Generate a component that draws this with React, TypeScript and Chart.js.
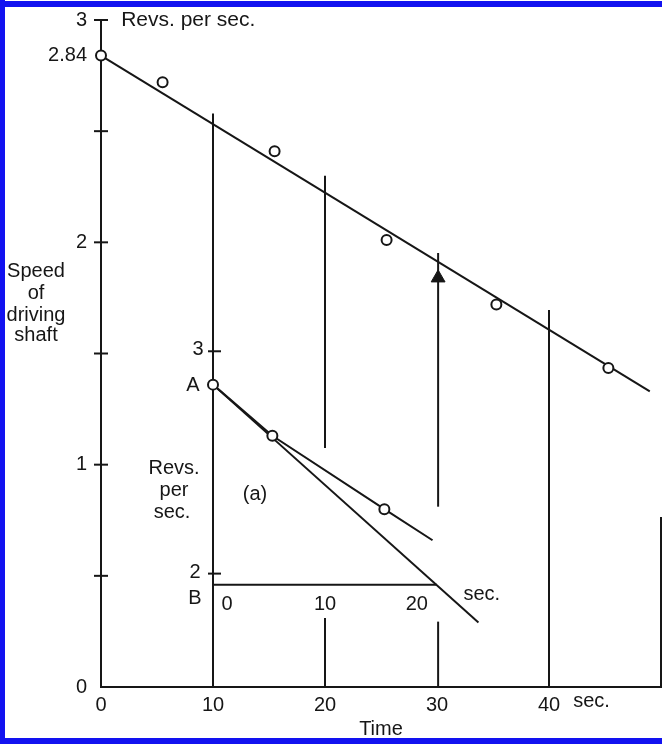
import React, { useEffect, useRef } from 'react';
import { Chart, registerables } from 'chart.js';

Chart.register(...registerables);

// ---------- main graph: speed of driving shaft (revs/sec) vs time (sec) ----------
const mainTimes = [0, 5.5, 15.5, 25.5, 35.3, 45.3];
const mainSpeeds = [2.84, 2.72, 2.41, 2.01, 1.72, 1.435];

const fitTimes = [0, 49];
const fitSpeeds = [2.84, 1.33];

// vertical ordinate segments
const ordinateTimes = [10, 20, 20, 30.1, 30.1, 40, 50];
const ordinateFrom = [0, 1.075, 0, 0.811, 0, 0, 0];
const ordinateTo = [2.58, 2.3, 0.31, 1.952, 0.294, 1.696, 0.765];

const arrowTimes = [30.1];
const arrowSpeeds = [1.84];

const yTickMarks = [0.5, 1, 1.5, 2, 2.5, 3];
const yLabelValues = [0, 1, 2, 2.84, 3];
const yLabelTexts = ['0', '1', '2', '2.84', '3'];
const xTickValues = [0, 10, 20, 30, 40];
const xTickTexts = ['0', '10', '20', '30', '40'];

// ---------- inset (a): in its own units (sec from A, revs/sec) ----------
const insetOriginTime = 10; // main time at inset 0 sec
const insetOriginSpeed = -1.49; // main speed at inset 0 revs/sec
const insetPointTimes = [0, 5.3, 15.3];
const insetPointSpeeds = [2.85, 2.62, 2.29];
const insetCurveTimes = [0, 5.3, 15.3, 19.6];
const insetCurveSpeeds = [2.85, 2.62, 2.29, 2.15];
const insetTangentTimes = [0, 23.7];
const insetTangentSpeeds = [2.85, 1.78];
const insetBTimes = [0, 20];
const insetBSpeeds = [1.95, 1.95];
const insetTickMarks = [2, 3];

// ---------- text annotations (main time / speed units) ----------
type Note = { text: string; t: number; v: number; align?: CanvasTextAlign; size?: number };
const notes: Note[] = [
  { text: 'Revs. per sec.', t: 1.8, v: 3.0, align: 'left', size: 21 },
  { text: 'Speed', t: -5.8, v: 1.867 },
  { text: 'of', t: -5.8, v: 1.772 },
  { text: 'driving', t: -5.8, v: 1.673 },
  { text: 'shaft', t: -5.8, v: 1.579 },
  { text: 'sec.', t: 43.8, v: -0.067 },
  { text: 'Time', t: 25, v: -0.193 },
  { text: '3', t: 8.66, v: 1.52 },
  { text: 'A', t: 8.21, v: 1.354 },
  { text: '2', t: 8.39, v: 0.517 },
  { text: 'B', t: 8.39, v: 0.4 },
  { text: 'Revs.', t: 6.52, v: 0.985 },
  { text: 'per', t: 6.52, v: 0.886 },
  { text: 'sec.', t: 6.34, v: 0.787 },
  { text: '(a)', t: 13.75, v: 0.864 },
  { text: '0', t: 11.25, v: 0.369 },
  { text: '10', t: 20, v: 0.369 },
  { text: '20', t: 28.2, v: 0.369 },
  { text: 'sec.', t: 34.0, v: 0.414 },
];

const FONT = '"Liberation Sans", Arial, Helvetica, sans-serif';
const INK = '#161616';
const BLUE = '#1212f0';

export default function App() {
  const ref = useRef<HTMLCanvasElement>(null);

  useEffect(() => {
    const canvas = ref.current;
    if (!canvas) return;
    const pts = (xs: number[], ys: number[]) => xs.map((x, i) => ({ x, y: ys[i] }));
    const inset = (xs: number[], ys: number[]) =>
      xs.map((x, i) => ({ x: x + insetOriginTime, y: ys[i] + insetOriginSpeed }));

    const line = (data: { x: number; y: number }[]) => ({
      data,
      showLine: true,
      borderColor: INK,
      borderWidth: 2,
      pointRadius: 0,
      pointHoverRadius: 0,
      fill: false,
      tension: 0,
      clip: false,
      order: 2,
    });
    const circles = (data: { x: number; y: number }[]) => ({
      data,
      showLine: false,
      pointStyle: 'circle',
      pointRadius: 5,
      pointBorderWidth: 2,
      pointBorderColor: INK,
      pointBackgroundColor: '#ffffff',
      clip: false,
      order: 0,
    });

    const datasets: any[] = [
      line(pts(fitTimes, fitSpeeds)),
      ...ordinateTimes.map((t, i) =>
        line([
          { x: t, y: ordinateFrom[i] },
          { x: t, y: ordinateTo[i] },
        ])
      ),
      line(inset(insetCurveTimes, insetCurveSpeeds)),
      line(inset(insetTangentTimes, insetTangentSpeeds)),
      line(inset(insetBTimes, insetBSpeeds)),
      circles(pts(mainTimes, mainSpeeds)),
      circles(inset(insetPointTimes, insetPointSpeeds)),
      {
        data: pts(arrowTimes, arrowSpeeds),
        showLine: false,
        pointStyle: 'triangle',
        pointRadius: 8,
        pointBorderWidth: 1,
        pointBorderColor: INK,
        pointBackgroundColor: INK,
        clip: false,
        order: 0,
      },
    ];

    const decor = {
      id: 'decor',
      beforeDraw(chart: any) {
        const { ctx, width, height } = chart;
        ctx.save();
        ctx.fillStyle = '#ffffff';
        ctx.fillRect(0, 0, width, height);
        ctx.fillStyle = BLUE;
        ctx.fillRect(0, 1, width, 6);
        ctx.fillRect(0, 0, 5, height);
        ctx.fillRect(0, height - 6, width, 6);
        ctx.restore();
      },
      afterDraw(chart: any) {
        const { ctx } = chart;
        const xs = chart.scales.x;
        const ys = chart.scales.y;
        ctx.save();
        ctx.strokeStyle = INK;
        ctx.lineWidth = 2;
        const ax = xs.getPixelForValue(0);
        yTickMarks.forEach((v) => {
          const py = ys.getPixelForValue(v);
          ctx.beginPath();
          ctx.moveTo(ax - 7, py);
          ctx.lineTo(ax + 7, py);
          ctx.stroke();
        });
        const ix = xs.getPixelForValue(insetOriginTime);
        insetTickMarks.forEach((v) => {
          const py = ys.getPixelForValue(v + insetOriginSpeed);
          ctx.beginPath();
          ctx.moveTo(ix - 5, py);
          ctx.lineTo(ix + 8, py);
          ctx.stroke();
        });
        ctx.fillStyle = INK;
        ctx.textBaseline = 'middle';
        notes.forEach((n) => {
          ctx.font = `${n.size || 20}px ${FONT}`;
          ctx.textAlign = n.align || 'center';
          ctx.fillText(n.text, xs.getPixelForValue(n.t), ys.getPixelForValue(n.v));
        });
        ctx.restore();
      },
    };

    const chart = new Chart(canvas, {
      type: 'scatter',
      data: { datasets },
      options: {
        animation: false,
        responsive: false,
        events: [],
        layout: { autoPadding: false, padding: { top: 20, right: 1, left: 0, bottom: 0 } },
        plugins: { legend: { display: false }, tooltip: { enabled: false } },
        scales: {
          x: {
            type: 'linear',
            min: 0,
            max: 50,
            afterBuildTicks: (s: any) => {
              s.ticks = xTickValues.map((v) => ({ value: v }));
            },
            afterFit: (s: any) => {
              s.height = 57;
              s.paddingLeft = 0;
              s.paddingRight = 0;
            },
            grid: { display: false, drawTicks: false },
            border: { display: true, color: INK, width: 2 },
            ticks: {
              autoSkip: false,
              maxRotation: 0,
              padding: 6,
              color: INK,
              font: { family: FONT, size: 20 },
              callback: (v: any) => {
                const i = xTickValues.indexOf(Number(v));
                return i >= 0 ? xTickTexts[i] : '';
              },
            },
          },
          y: {
            type: 'linear',
            min: 0,
            max: 3,
            afterBuildTicks: (s: any) => {
              s.ticks = yLabelValues.map((v) => ({ value: v }));
            },
            afterFit: (s: any) => {
              s.width = 101;
              s.paddingTop = 0;
              s.paddingBottom = 0;
            },
            grid: { display: false, drawTicks: false },
            border: { display: true, color: INK, width: 2 },
            ticks: {
              autoSkip: false,
              padding: 14,
              color: INK,
              font: { family: FONT, size: 20 },
              callback: (v: any) => {
                const i = yLabelValues.indexOf(Number(v));
                return i >= 0 ? yLabelTexts[i] : '';
              },
            },
          },
        },
      } as any,
      plugins: [decor],
    });
    return () => chart.destroy();
  }, []);

  return (
    <div style={{ position: 'fixed', left: 0, top: 0, width: 662, height: 744, background: '#fff' }}>
      <canvas ref={ref} width={662} height={744} style={{ display: 'block' }} />
    </div>
  );
}
